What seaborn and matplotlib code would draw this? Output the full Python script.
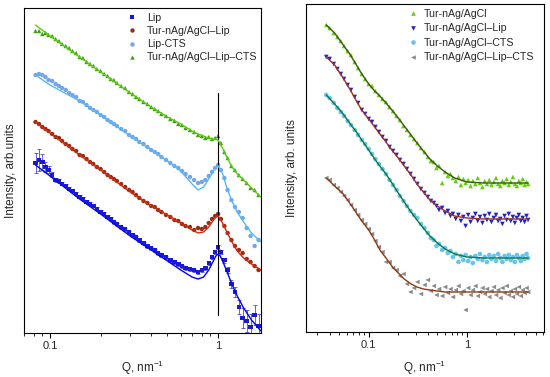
import numpy as np
import pandas as pd
import seaborn as sns
import matplotlib.pyplot as plt
from matplotlib.ticker import LogLocator, NullFormatter, NullLocator

# ---------------- left panel: SAXS curves (log10 intensity, arb. units) ----------------
q_left = [0.082, 0.086, 0.09, 0.094, 0.098, 0.103, 0.108, 0.113, 0.118, 0.124,
          0.13, 0.136, 0.143, 0.15, 0.157, 0.165, 0.173, 0.181, 0.19, 0.2,
          0.21, 0.22, 0.23, 0.24, 0.25, 0.265, 0.28, 0.295, 0.31, 0.325,
          0.34, 0.36, 0.38, 0.40, 0.42, 0.44, 0.46, 0.49, 0.52, 0.55,
          0.58, 0.61, 0.64, 0.68, 0.72, 0.76, 0.80, 0.84, 0.88, 0.92,
          0.96, 1.0, 1.04, 1.09, 1.14, 1.2, 1.26, 1.33, 1.4, 1.48,
          1.56, 1.65, 1.74]

lip = [3.40, 3.46, 3.42, 3.32, 3.26, 3.16, 3.06, 3.04, 2.98, 2.94,
       2.88, 2.84, 2.78, 2.72, 2.68, 2.62, 2.58, 2.54, 2.48, 2.42,
       2.38, 2.32, 2.28, 2.22, 2.18, 2.12, 2.08, 2.02, 1.96, 1.92,
       1.86, 1.80, 1.74, 1.70, 1.66, 1.60, 1.56, 1.52, 1.46, 1.42,
       1.38, 1.34, 1.30, 1.28, 1.26, 1.22, 1.26, 1.30, 1.40, 1.52,
       1.62, 1.72, 1.62, 1.46, 1.26, 0.98, 0.82, 0.52, 0.30, 0.24,
       0.12, 0.36, 0.14]
lip_err = [0.20, 0.22, 0.16, 0.10, 0.07, 0.05, 0.04, 0.04, 0.03, 0.03,
           0.03, 0.03, 0.03, 0.03, 0.03, 0.03, 0.03, 0.03, 0.03, 0.03,
           0.03, 0.03, 0.03, 0.03, 0.03, 0.03, 0.03, 0.03, 0.03, 0.03,
           0.03, 0.03, 0.03, 0.03, 0.03, 0.03, 0.03, 0.03, 0.03, 0.03,
           0.03, 0.03, 0.03, 0.03, 0.03, 0.03, 0.03, 0.03, 0.03, 0.03,
           0.03, 0.04, 0.04, 0.05, 0.06, 0.08, 0.10, 0.14, 0.20, 0.22,
           0.26, 0.20, 0.24]
ag_lip = [4.22, 4.18, 4.12, 4.08, 4.04, 3.98, 3.92, 3.90, 3.84, 3.78,
          3.74, 3.68, 3.64, 3.56, 3.54, 3.48, 3.42, 3.38, 3.32, 3.28,
          3.22, 3.16, 3.12, 3.08, 3.04, 2.98, 2.92, 2.86, 2.82, 2.76,
          2.70, 2.64, 2.60, 2.54, 2.52, 2.46, 2.42, 2.36, 2.32, 2.26,
          2.24, 2.18, 2.14, 2.12, 2.06, 2.10, 2.08, 2.12, 2.20, 2.28,
          2.34, 2.38, 2.28, 2.14, 2.00, 1.86, 1.74, 1.66, 1.60, 1.48,
          1.42, 1.34, 1.26]
lip_cts = [5.16, 5.18, 5.16, 5.12, 5.06, 5.04, 4.98, 4.94, 4.90, 4.86,
           4.80, 4.76, 4.72, 4.64, 4.62, 4.56, 4.50, 4.46, 4.42, 4.36,
           4.32, 4.26, 4.22, 4.18, 4.14, 4.08, 4.04, 3.96, 3.92, 3.88,
           3.82, 3.78, 3.72, 3.66, 3.62, 3.58, 3.52, 3.46, 3.40, 3.34,
           3.30, 3.24, 3.18, 3.12, 3.06, 3.00, 3.02, 3.06, 3.14, 3.22,
           3.30, 3.36, 3.26, 3.10, 2.86, 2.66, 2.52, 2.42, 2.30, 2.10,
           1.94, 1.74, 1.86]
ag_lip_cts = [6.04, 6.04, 5.98, 6.00, 5.96, 5.94, 5.88, 5.84, 5.78, 5.74,
              5.70, 5.64, 5.60, 5.52, 5.50, 5.42, 5.38, 5.34, 5.28, 5.24,
              5.18, 5.14, 5.08, 5.06, 5.00, 4.94, 4.90, 4.82, 4.78, 4.72,
              4.68, 4.62, 4.58, 4.52, 4.48, 4.44, 4.38, 4.34, 4.28, 4.24,
              4.18, 4.16, 4.10, 4.06, 4.02, 3.96, 3.94, 3.90, 3.92, 3.88,
              3.90, 3.94, 3.80, 3.62, 3.50, 3.34, 3.26, 3.16, 3.08, 3.00,
              2.90, 2.86, 2.76]

q_left_fit = [0.082, 0.1, 0.15, 0.2, 0.3, 0.4, 0.5, 0.6, 0.7, 0.76, 0.82, 0.88,
              0.93, 0.97, 1.0, 1.03, 1.07, 1.12, 1.2, 1.3, 1.42, 1.58, 1.8]
lip_fit = [3.36, 3.14, 2.68, 2.38, 1.94, 1.66, 1.44, 1.26, 1.12, 1.08, 1.12, 1.26,
           1.42, 1.54, 1.58, 1.54, 1.42, 1.26, 1.00, 0.74, 0.50, 0.26, 0.04]
ag_lip_fit = [4.22, 4.00, 3.56, 3.26, 2.82, 2.54, 2.36, 2.20, 2.06, 2.00, 2.02, 2.12,
              2.24, 2.32, 2.34, 2.28, 2.18, 2.04, 1.84, 1.64, 1.50, 1.38, 1.26]
lip_cts_fit = [5.16, 4.96, 4.64, 4.36, 3.94, 3.66, 3.44, 3.24, 2.98, 2.86, 2.92, 3.08,
               3.22, 3.32, 3.34, 3.28, 3.16, 2.94, 2.66, 2.42, 2.22, 2.00, 1.82]
ag_lip_cts_fit = [6.16, 5.94, 5.52, 5.22, 4.80, 4.52, 4.32, 4.18, 4.04, 3.98, 3.94, 3.90,
                  3.88, 3.87, 3.86, 3.78, 3.68, 3.54, 3.34, 3.18, 3.06, 2.90, 2.72]

left_names = ["Lip", "Tur-nAg/AgCl\u2013Lip", "Lip-CTS", "Tur-nAg/AgCl\u2013Lip\u2013CTS"]
peak_line_lg = (0.36, 4.8)

# ---------------- right panel ----------------
q_right = [0.037, 0.040, 0.044, 0.048, 0.052, 0.056, 0.061, 0.066, 0.072, 0.078,
           0.085, 0.092, 0.10, 0.108, 0.117, 0.127, 0.138, 0.15, 0.163, 0.177,
           0.192, 0.208, 0.226, 0.245, 0.266, 0.289, 0.313, 0.34, 0.37, 0.40,
           0.43, 0.46, 0.49, 0.52, 0.56, 0.60, 0.64, 0.68, 0.72, 0.77,
           0.82, 0.87, 0.92, 0.97, 1.03, 1.09, 1.15, 1.22, 1.29, 1.36,
           1.44, 1.52, 1.6, 1.69, 1.78, 1.88, 1.98, 2.08, 2.19, 2.3,
           2.42, 2.54, 2.67, 2.8, 2.94, 3.08, 3.23, 3.38, 3.54, 3.7,
           3.87, 4.05, 4.2]

ag = [6.14, 6.08, 5.98, 5.90, 5.82, 5.72, 5.62, 5.54, 5.40, 5.28,
      5.16, 5.06, 4.96, 4.92, 4.82, 4.74, 4.66, 4.60, 4.50, 4.42,
      4.32, 4.24, 4.12, 4.04, 3.94, 3.86, 3.78, 3.68, 3.60, 3.50,
      3.42, 3.40, 3.28, 3.32, 2.98, 3.20, 3.12, 3.16, 3.08, 3.02,
      3.10, 2.94, 3.06, 2.98, 3.04, 2.92, 3.02, 2.96, 3.08, 2.98,
      2.90, 3.02, 2.96, 3.04, 2.94, 3.00, 3.08, 2.96, 2.92, 3.02,
      2.98, 3.06, 2.94, 3.00, 3.10, 2.96, 2.92, 3.02, 2.98, 3.06,
      2.94, 3.00, 2.96]
ag_lip_r = [5.50, 5.46, 5.36, 5.26, 5.16, 5.06, 4.94, 4.84, 4.70, 4.58,
            4.44, 4.36, 4.26, 4.20, 4.10, 4.00, 3.90, 3.82, 3.70, 3.62,
            3.54, 3.44, 3.36, 3.26, 3.16, 3.06, 2.96, 2.86, 2.78, 2.70,
            2.62, 2.58, 2.52, 2.44, 2.48, 2.38, 2.42, 2.32, 2.36, 2.26,
            2.34, 2.22, 2.30, 2.12, 2.34, 2.20, 2.28, 2.36, 2.22, 2.30,
            2.18, 2.32, 2.24, 2.36, 2.20, 2.28, 2.34, 2.22, 2.26, 2.16,
            2.32, 2.24, 2.36, 2.22, 2.30, 2.18, 2.28, 2.34, 2.22, 2.28,
            2.20, 2.32, 2.24]
ag_cts = [4.74, 4.68, 4.58, 4.48, 4.40, 4.32, 4.22, 4.14, 4.04, 3.94,
          3.84, 3.76, 3.66, 3.56, 3.46, 3.36, 3.26, 3.16, 3.04, 2.94,
          2.84, 2.72, 2.62, 2.52, 2.42, 2.34, 2.28, 2.16, 2.08, 1.98,
          1.88, 1.84, 1.72, 1.76, 1.64, 1.68, 1.58, 1.62, 1.50, 1.56,
          1.40, 1.52, 1.44, 1.54, 1.42, 1.50, 1.38, 1.52, 1.46, 1.56,
          1.44, 1.50, 1.40, 1.54, 1.46, 1.52, 1.42, 1.56, 1.48, 1.40,
          1.52, 1.46, 1.54, 1.44, 1.50, 1.40, 1.54, 1.48, 1.42, 1.52,
          1.46, 1.56, 1.48]
ag_lip_cts_r = [3.08, 3.04, 2.94, 2.88, 2.80, 2.72, 2.64, 2.54, 2.44, 2.34,
                2.24, 2.16, 2.06, 1.96, 1.82, 1.70, 1.60, 1.40, 1.40, 1.28,
                1.24, 1.12, 1.16, 0.96, 0.80, 0.88, 1.00, 0.76, 0.94, 1.04,
                0.82, 0.92, 0.74, 0.86, 0.72, 0.90, 0.78, 0.86, 0.70, 0.84,
                0.92, 0.76, 0.82, 0.44, 0.88, 0.74, 0.84, 0.92, 0.72, 0.80,
                0.88, 0.76, 0.86, 0.70, 0.82, 0.90, 0.74, 0.84, 0.68, 0.88,
                0.78, 0.92, 0.74, 0.82, 0.70, 0.86, 0.76, 0.90, 0.72, 0.84,
                0.78, 0.88, 0.80]

q_right_fit = [0.037, 0.045, 0.055, 0.065, 0.075, 0.085, 0.1, 0.115, 0.13, 0.15, 0.175, 0.2,
               0.23, 0.27, 0.31, 0.36, 0.42, 0.5, 0.6, 0.75, 1.0, 1.5, 2.5, 4.2]
ag_fit = [6.14, 5.98, 5.74, 5.54, 5.34, 5.16, 4.96, 4.82, 4.72, 4.58, 4.42, 4.28,
          4.12, 3.94, 3.78, 3.62, 3.46, 3.32, 3.20, 3.08, 3.00, 2.98, 2.98, 2.98]
ag_lip_r_fit = [5.50, 5.34, 5.08, 4.84, 4.62, 4.44, 4.26, 4.10, 3.96, 3.80, 3.62, 3.48,
                3.32, 3.14, 2.96, 2.80, 2.64, 2.52, 2.42, 2.32, 2.28, 2.26, 2.26, 2.26]
ag_cts_fit = [4.74, 4.56, 4.36, 4.16, 4.00, 3.84, 3.64, 3.46, 3.32, 3.16, 2.96, 2.78,
              2.60, 2.40, 2.24, 2.08, 1.92, 1.78, 1.66, 1.56, 1.50, 1.48, 1.48, 1.48]
ag_lip_cts_r_fit = [3.08, 2.92, 2.76, 2.56, 2.38, 2.22, 2.04, 1.84, 1.64, 1.48, 1.30, 1.18,
                    1.06, 0.96, 0.90, 0.86, 0.84, 0.82, 0.80, 0.80, 0.80, 0.80, 0.80, 0.80]

right_names = ["Tur-nAg/AgCl", "Tur-nAg/AgCl\u2013Lip", "Tur-nAg/AgCl\u2013CTS",
               "Tur-nAg/AgCl\u2013Lip\u2013CTS"]


def long_table(q, series):
    frames = [pd.DataFrame({"q": q, "lg": vals, "sample": name}) for name, vals in series.items()]
    df = pd.concat(frames, ignore_index=True)
    df["I"] = 10 ** df["lg"]
    return df


left_df = long_table(q_left, dict(zip(left_names, [lip, ag_lip, lip_cts, ag_lip_cts])))
left_fit_df = long_table(q_left_fit, dict(zip(left_names, [lip_fit, ag_lip_fit, lip_cts_fit, ag_lip_cts_fit])))
right_df = long_table(q_right, dict(zip(right_names, [ag, ag_lip_r, ag_cts, ag_lip_cts_r])))
right_fit_df = long_table(q_right_fit, dict(zip(right_names, [ag_fit, ag_lip_r_fit, ag_cts_fit, ag_lip_cts_r_fit])))

sns.set_style("white")
plt.rcParams["font.family"] = ["Liberation Sans", "DejaVu Sans"]
plt.rcParams["font.size"] = 7.5

fig = plt.figure(figsize=(5.5, 3.77), dpi=100)
ax1 = fig.add_axes([0.0436, 0.1167, 0.4309, 0.8621])
ax2 = fig.add_axes([0.5564, 0.1194, 0.4327, 0.8700])

left_marker_colors = dict(zip(left_names, ["#1a1ad6", "#9a2d12", "#74a4ec", "#3fa010"]))
left_line_colors = dict(zip(left_names, ["#0000ff", "#d42a10", "#5ab8f0", "#5ccc10"]))
left_markers = dict(zip(left_names, ["s", "o", "o", "^"]))

right_marker_colors = dict(zip(right_names, ["#66cc11", "#2222cc", "#66c4ee", "#8a8a8a"]))
right_line_colors = dict(zip(right_names, ["#3d5a10", "#a0341c", "#0c7a40", "#8b3a18"]))
right_markers = dict(zip(right_names, ["^", "v", "o", "<"]))

# left panel
lip_df = left_df[left_df["sample"] == left_names[0]]
lo = lip_df["I"] - 10 ** (lip_df["lg"] - np.array(lip_err))
hi = 10 ** (lip_df["lg"] + np.array(lip_err)) - lip_df["I"]
ax1.errorbar(lip_df["q"], lip_df["I"], yerr=[lo, hi], fmt="none", ecolor="#4a4ae0",
             elinewidth=0.6, capsize=1.5, capthick=0.6, zorder=1)
sns.scatterplot(data=left_df, x="q", y="I", hue="sample", style="sample",
                hue_order=left_names, style_order=left_names, palette=left_marker_colors,
                markers=left_markers, s=10, linewidth=0, ax=ax1, zorder=2)
sns.lineplot(data=left_fit_df, x="q", y="I", hue="sample", hue_order=left_names,
             palette=left_line_colors, estimator=None, lw=1.0, legend=False, ax=ax1, zorder=3)
ax1.plot([1.0, 1.0], [10 ** peak_line_lg[0], 10 ** peak_line_lg[1]], color="black", lw=0.8)

# right panel
sns.scatterplot(data=right_df, x="q", y="I", hue="sample", style="sample",
                hue_order=right_names, style_order=right_names, palette=right_marker_colors,
                markers=right_markers, s=11, linewidth=0, ax=ax2, zorder=2)
sns.lineplot(data=right_fit_df, x="q", y="I", hue="sample", hue_order=right_names,
             palette=right_line_colors, estimator=None, lw=1.0, legend=False, ax=ax2, zorder=3)


def style_axes(ax, xlim, ylim_lg, ylabel, ylab_x, xlab_y):
    ax.set_xscale("log")
    ax.set_yscale("log")
    ax.set_xlim(*xlim)
    ax.set_ylim(10 ** ylim_lg[0], 10 ** ylim_lg[1])
    ax.set_xticks([0.1, 1], ["0.1", "1"])
    ax.xaxis.set_minor_locator(LogLocator(base=10, subs=np.arange(2, 10), numticks=20))
    ax.xaxis.set_minor_formatter(NullFormatter())
    ax.yaxis.set_major_locator(NullLocator())
    ax.yaxis.set_minor_locator(NullLocator())
    ax.tick_params(axis="x", which="major", direction="out", length=3.6, width=0.8,
                   bottom=True, top=False, labelsize=8, pad=2.5, color="black")
    ax.tick_params(axis="x", which="minor", direction="out", length=2.0, width=0.6,
                   bottom=True, top=False, color="black")
    for sp in ax.spines.values():
        sp.set_color("black")
        sp.set_linewidth(0.8)
    ax.set_xlabel("Q, nm$^{\\mathregular{-1}}$", fontsize=8.5)
    ax.set_ylabel(ylabel, fontsize=8.5)
    ax.yaxis.set_label_coords(ylab_x, 0.5)
    ax.xaxis.set_label_coords(0.5, xlab_y)


style_axes(ax1, (0.07, 1.8), (0, 6.5), "Intensity, arb.units", -0.03, -0.08)
style_axes(ax2, (0.023, 6.1), (0, 6.56), "Intensity, arb. units", -0.034, -0.082)

sns.move_legend(ax1, "upper left", bbox_to_anchor=(0.4346, 0.985), frameon=False, title="",
                handlelength=1.0, handletextpad=0.9, labelspacing=0.3, borderpad=0,
                borderaxespad=0, fontsize=7.6)
sns.move_legend(ax2, "upper left", bbox_to_anchor=(0.4286, 0.985), frameon=False, title="",
                handlelength=1.0, handletextpad=0.45, labelspacing=0.42, borderpad=0,
                borderaxespad=0, fontsize=7.6)

fig.savefig("out.png", dpi=100, facecolor="white")
